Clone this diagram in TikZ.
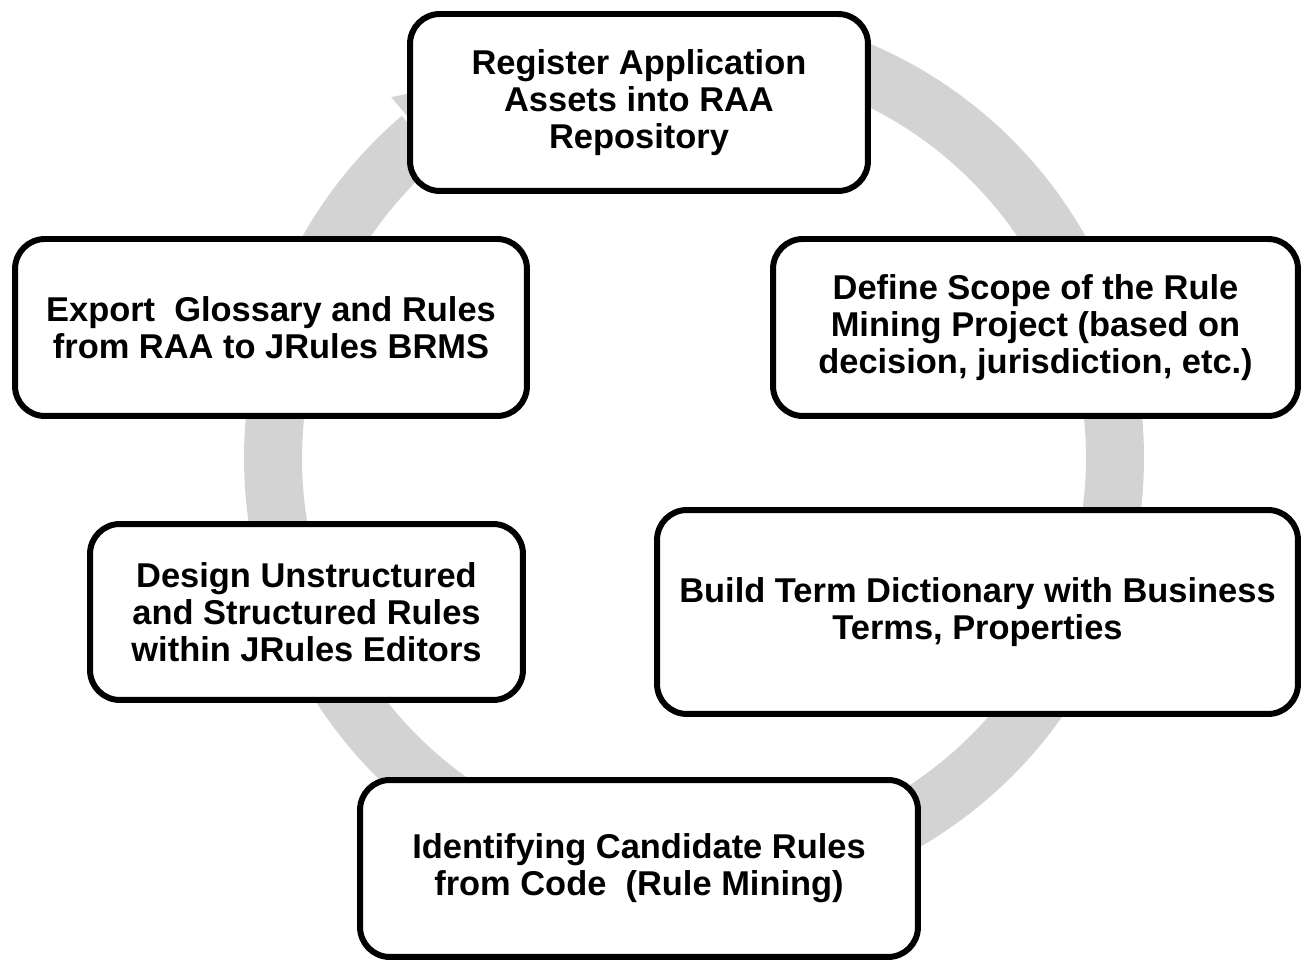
\documentclass[tikz,border=0pt]{standalone}
\usepackage{fontspec}
\setmainfont{Liberation Sans}
\definecolor{ringgray}{RGB}{211,211,211}
\tikzset{
  stepbox/.style={draw=black, fill=white, line width=3.4pt, rounded corners=17pt,
    inner sep=0pt, align=center, font=\fontsize{19.6}{21}\selectfont\bfseries},
  ringband/.style={draw=ringgray, line width=1.16cm},
}
\begin{document}
\begin{tikzpicture}[x=0.02cm,y=0.02cm]
\useasboundingbox (0,0) rectangle (1303,961);
% circular arrow
\begin{scope}[shift={(694,503)}]
  \draw[ringband] (80:421) arc[start angle=80, end angle=-229.5, radius=8.42cm];
  \fill[ringgray] (130:471) -- (112:421) -- (130:371) -- cycle;
\end{scope}
% boxes
\node[stepbox, minimum width=9.16cm, minimum height=3.54cm] (register) at (639,858.5)
  {Register Application\\Assets into RAA\\Repository};
\node[stepbox, minimum width=10.5cm, minimum height=3.54cm] (scope) at (1035.5,633.5)
  {Define Scope of the Rule\\Mining Project (based on\\decision, jurisdiction, etc.)};
\node[stepbox, minimum width=10.24cm, minimum height=3.54cm] (export) at (271,633.5)
  {Export\ \ Glossary and Rules\\from RAA to JRules BRMS};
\node[stepbox, minimum width=12.82cm, minimum height=4.08cm] (build) at (977.5,349)
  {Build Term Dictionary with Business\\Terms, Properties};
\node[stepbox, minimum width=8.66cm, minimum height=3.52cm] (design) at (306.5,349)
  {Design Unstructured\\and Structured Rules\\within JRules Editors};
\node[stepbox, minimum width=11.16cm, minimum height=3.54cm] (identify) at (639,92.5)
  {Identifying Candidate Rules\\from Code\ \ (Rule Mining)};
\end{tikzpicture}
\end{document}
